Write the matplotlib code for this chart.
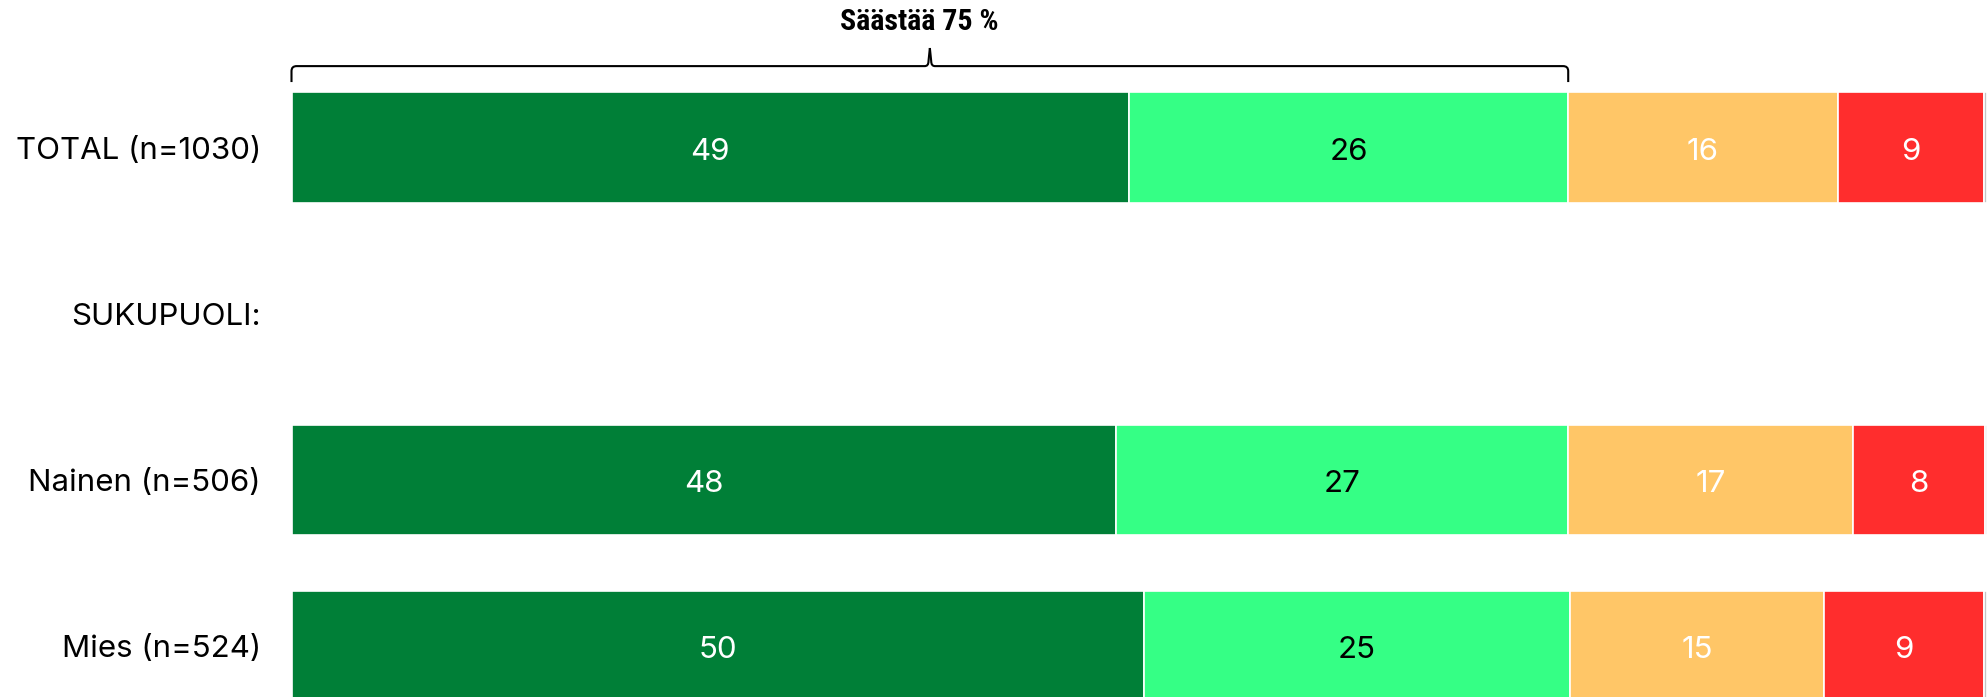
import matplotlib
matplotlib.use("Agg")
import matplotlib.pyplot as plt
from matplotlib.path import Path
from matplotlib.patches import PathPatch
from matplotlib import font_manager
import numpy as np

plt.rcParams['font.family'] = ['Inter', 'DejaVu Sans']

# ---- data ----
rows = ["TOTAL (n=1030)", "SUKUPUOLI:", "Nainen (n=506)", "Mies (n=524)"]
seg1 = [49.4, None, 48.6, 50.3]   # dark green
seg2 = [25.9, None, 26.7, 25.1]   # light green
seg3 = [15.9, None, 16.8, 15.0]   # orange
seg4 = [8.6, None, 7.8, 9.4]      # red
seg5 = [0.2, None, 0.1, 0.2]      # grey (rest)
labels1 = ["49", "", "48", "50"]
labels2 = ["26", "", "27", "25"]
labels3 = ["16", "", "17", "15"]
labels4 = ["9", "", "8", "9"]
bracket_title = "Säästää 75 %"

colors = ["#007f37", "#35ff85", "#ffc667", "#ff2d2d", "#c4c4c4"]
text_colors = ["white", "black", "white", "white", None]

names = {f.name for f in font_manager.fontManager.ttflist}
title_family = "DejaVu Sans"
for cand in ["Roboto Condensed", "Open Sans Condensed", "Liberation Sans Narrow", "Roboto"]:
    if cand in names:
        title_family = cand
        break

fig = plt.figure(figsize=(19.87, 6.97), dpi=100)
ax = fig.add_axes([291.5 / 1987, 0, 1 - 291.5 / 1987, 1])

series = [seg1, seg2, seg3, seg4, seg5]
lab_series = [labels1, labels2, labels3, labels4, None]
ypos = np.arange(len(rows))
bar_h = 0.665
for i, y in enumerate(ypos):
    if seg1[i] is None:
        continue
    left = 0.0
    for s, (vals, col) in enumerate(zip(series, colors)):
        v = vals[i]
        ax.barh(y, v, left=left, height=bar_h, color=col,
                edgecolor="white", linewidth=1.2)
        if lab_series[s] is not None and lab_series[s][i]:
            ax.text(left + v / 2, y + 0.005, lab_series[s][i], ha="center",
                    va="center_baseline", fontsize=22.5, color=text_colors[s])
        left += v

ax.set_xlim(0, 100)
ax.set_ylim(3.307, -0.889)
ax.set_yticks(ypos)
ax.set_yticklabels(rows, fontsize=22.5)
ax.tick_params(axis="y", length=0, pad=22)
ax.tick_params(axis="x", bottom=False, labelbottom=False)
for sp in ax.spines.values():
    sp.set_visible(False)

# ---- bracket over first two segments of TOTAL ----
x0 = 0.0
x1 = seg1[0] + seg2[0]
xc = (x0 + x1) / 2
y_leg = -0.395
y_h = -0.491
y_tip = -0.60
rx = 0.3
ry = 0.03
verts = [
    (x0, y_leg), (x0, y_h + ry), (x0, y_h), (x0 + rx, y_h),
    (xc - rx, y_h), (xc - 0.08, y_h), (xc - 0.08, y_h - ry), (xc, y_tip),
]
codes = [Path.MOVETO, Path.LINETO, Path.CURVE3, Path.CURVE3,
         Path.LINETO, Path.CURVE3, Path.CURVE3, Path.LINETO]
verts2 = [
    (xc, y_tip), (xc + 0.08, y_h - ry), (xc + 0.08, y_h), (xc + rx, y_h),
    (x1 - rx, y_h), (x1, y_h), (x1, y_h + ry), (x1, y_leg),
]
codes2 = [Path.MOVETO, Path.LINETO, Path.CURVE3, Path.CURVE3,
          Path.LINETO, Path.CURVE3, Path.CURVE3, Path.LINETO]
for vv, cc in [(verts, codes), (verts2, codes2)]:
    ax.add_patch(PathPatch(Path(vv, cc), facecolor="none", edgecolor="black",
                           linewidth=1.5, clip_on=False))
ax.text(xc - 0.6, -0.755, bracket_title, ha="center", va="center", fontsize=21.5,
        fontweight="black", fontstretch="condensed", family=title_family)

fig.savefig("out.png", dpi=100)
